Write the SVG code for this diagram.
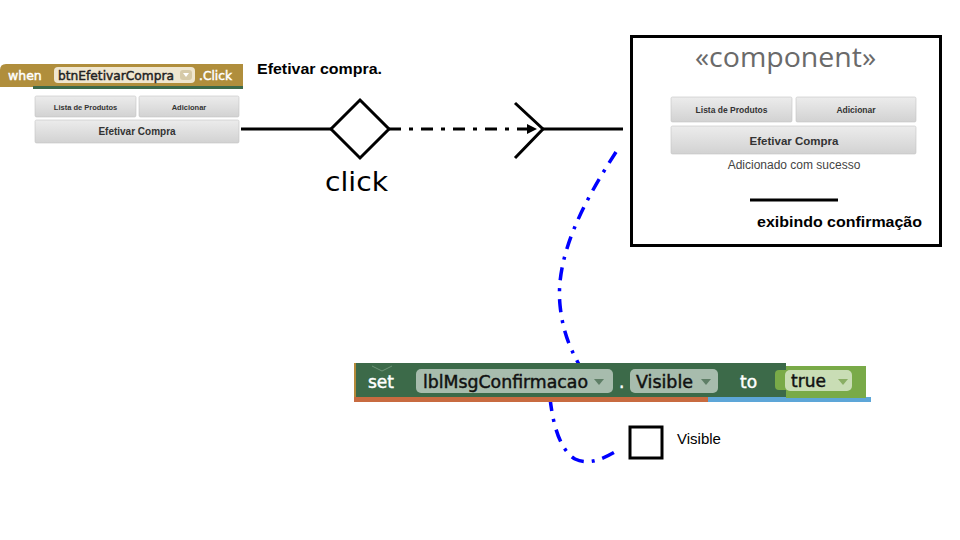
<svg xmlns="http://www.w3.org/2000/svg" width="960" height="540" viewBox="0 0 960 540">
<defs>
<linearGradient id="btn" x1="0" y1="0" x2="0" y2="1">
<stop offset="0" stop-color="#ececec"/>
<stop offset="1" stop-color="#d2d2d2"/>
</linearGradient>
<marker id="tri" markerWidth="10" markerHeight="10" refX="9" refY="5" orient="auto" markerUnits="userSpaceOnUse" viewBox="0 0 10 10">
<path d="M0,0 L10,5 L0,10 Z" fill="#000"/>
</marker>
<style>
.btn{fill:url(#btn);stroke:#c4c4c4;stroke-width:0.6}
.bt{font-family:"Liberation Sans",Arial,sans-serif;font-weight:bold;fill:#333;text-anchor:middle}
.blk{font-family:"DejaVu Sans",Verdana,sans-serif;stroke-width:0.45}
.ln{stroke:#000;stroke-width:3;fill:none}
.blue{stroke:#0000ff;stroke-width:3.5;fill:none;stroke-dasharray:13 8 3 8}
.bub{fill:#ffffff;fill-opacity:0.55}
</style>
</defs>
<rect width="960" height="540" fill="#fff"/>

<g id="when-block">
<path d="M6,64 H243 V87 H0 V70 Q0,64 6,64 Z" fill="#b08e3c"/>
<rect x="33" y="86" width="210" height="3" fill="#3d6a4a"/>
<text x="8" y="80" class="blk" font-size="12.5" fill="#fff" stroke="#fff">when</text>
<rect x="54" y="67" width="141" height="16" rx="4" fill="#efe6cf"/>
<text x="58" y="80" class="blk" font-size="12.5" fill="#222" stroke="#222" textLength="116" lengthAdjust="spacingAndGlyphs">btnEfetivarCompra</text>
<rect x="180" y="70" width="12" height="10" rx="3" fill="#d6caa8"/>
<path d="M183,73 L189,73 L186,77 Z" fill="#fff"/>
<text x="199" y="80" class="blk" font-size="12.5" fill="#fff" stroke="#fff" textLength="33" lengthAdjust="spacingAndGlyphs">.Click</text>
<rect x="35" y="96" width="101" height="21" rx="1.5" class="btn"/>
<text x="85.5" y="110" class="bt" font-size="7.5">Lista de Produtos</text>
<rect x="139" y="96" width="100" height="21" rx="1.5" class="btn"/>
<text x="189" y="110" class="bt" font-size="7.5">Adicionar</text>
<rect x="35" y="120" width="204" height="23" rx="1.5" class="btn"/>
<text x="137" y="135" class="bt" font-size="10">Efetivar Compra</text>
</g>

<g id="label-efetivar">
<text x="257" y="74" font-family="Liberation Sans,Arial,sans-serif" font-weight="bold" font-size="14.5" fill="#000" textLength="125" lengthAdjust="spacingAndGlyphs">Efetivar compra.</text>
</g>

<g id="connectors">
<line x1="241" y1="129" x2="331" y2="129" class="ln"/>
<line x1="389" y1="129" x2="536" y2="129" class="ln" stroke-dasharray="12 8 4 8" marker-end="url(#tri)"/>
<polyline points="515,103 543,129 515,158" class="ln"/>
<line x1="543" y1="129" x2="623" y2="129" class="ln"/>
<path d="M616,152 C585,200 555,255 560,305 C563,335 572,352 582,370" class="blue"/>
<path d="M550,398 C553,425 560,450 575,459 C590,466 605,458 620,449" class="blue"/>
</g>

<g id="click-diamond">
<polygon points="360,100 389,129 360,158 331,129" fill="#fff" stroke="#000" stroke-width="3"/>
<text x="325" y="191" font-family="DejaVu Sans,Verdana,sans-serif" font-size="27" fill="#000" textLength="63" lengthAdjust="spacingAndGlyphs">click</text>
</g>

<g id="component">
<rect x="631.5" y="36.5" width="309" height="209" fill="#fff" stroke="#000" stroke-width="3"/>
<text x="695" y="67" font-family="Open Sans,DejaVu Sans,sans-serif" font-size="28" fill="#6a6a6a" textLength="181" lengthAdjust="spacingAndGlyphs">«component»</text>
<rect x="671" y="97" width="121" height="25" rx="1.5" class="btn"/>
<text x="731.5" y="113" class="bt" font-size="8.5">Lista de Produtos</text>
<rect x="796" y="97" width="120" height="25" rx="1.5" class="btn"/>
<text x="856" y="113" class="bt" font-size="8.5">Adicionar</text>
<rect x="671" y="126" width="245" height="28" rx="1.5" class="btn"/>
<text x="794" y="145" class="bt" font-size="11.5">Efetivar Compra</text>
<text x="794" y="169" text-anchor="middle" font-family="Liberation Sans,Arial,sans-serif" font-size="12" fill="#444">Adicionado com sucesso</text>
<line x1="750" y1="200" x2="838" y2="200" stroke="#000" stroke-width="3"/>
<text x="757" y="227" font-family="Liberation Sans,Arial,sans-serif" font-weight="bold" font-size="15.5" fill="#000" textLength="165" lengthAdjust="spacingAndGlyphs">exibindo confirmação</text>
</g>

<g id="set-block">
<rect x="703" y="363" width="80" height="4" fill="#a33a5e"/>
<rect x="354" y="363" width="432" height="35" fill="#3c6a49"/>
<rect x="354" y="363" width="2" height="39" fill="#b58a3a"/>
<polyline points="372,366 382,371 392,366" fill="none" stroke="#6c9476" stroke-width="1"/>
<rect x="354" y="397" width="354" height="5" fill="#c86b40"/>
<rect x="708" y="397" width="163" height="5" fill="#5da6d8"/>
<path d="M786,366 H866 V398 H786 Z" fill="#79aa48"/>
<path d="M787,370 H779 Q775,370 775,374 V386 Q775,390 779,390 H787 Z" fill="#79aa48"/>
<text x="368" y="388" class="blk" font-size="17" fill="#fff" stroke="#fff">set</text>
<rect x="416" y="369" width="197" height="24" rx="5" class="bub"/>
<text x="423" y="388" class="blk" font-size="17" fill="#111" stroke="#111" textLength="165" lengthAdjust="spacingAndGlyphs">lblMsgConfirmacao</text>
<path d="M594,379 L604,379 L599,385 Z" fill="#5e7e66"/>
<text x="619" y="388" class="blk" font-size="17" fill="#fff" stroke="#fff">.</text>
<rect x="630" y="369" width="88" height="24" rx="5" class="bub"/>
<text x="636" y="388" class="blk" font-size="17" fill="#111" stroke="#111" textLength="57" lengthAdjust="spacingAndGlyphs">Visible</text>
<path d="M701,379 L711,379 L706,385 Z" fill="#5e7e66"/>
<text x="740" y="388" class="blk" font-size="17" fill="#fff" stroke="#fff">to</text>
<rect x="785" y="370" width="67" height="21" rx="5" fill="#ffffff" fill-opacity="0.6"/>
<text x="791" y="387" class="blk" font-size="17" fill="#111" stroke="#111">true</text>
<path d="M838,379 L848,379 L843,385 Z" fill="#8aae64"/>
</g>

<g id="visible-box">
<rect x="630" y="427" width="32" height="31" fill="#fff" stroke="#000" stroke-width="3"/>
<text x="677" y="444" font-family="Liberation Sans,Arial,sans-serif" font-size="15" fill="#000">Visible</text>
</g>
</svg>
